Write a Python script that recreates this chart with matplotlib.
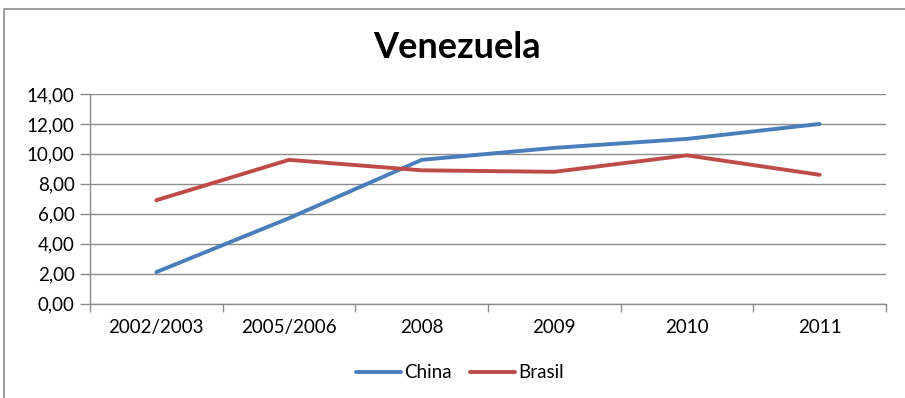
import matplotlib
matplotlib.use("Agg")
import matplotlib.pyplot as plt
from matplotlib.patches import Rectangle
from matplotlib.ticker import FixedLocator, FuncFormatter

categories = ["2002/2003", "2005/2006", "2008", "2009", "2010", "2011"]
china = [2.1, 5.7, 9.6, 10.4, 11.0, 12.0]
brasil = [6.9, 9.6, 8.9, 8.8, 9.9, 8.6]
y_ticks = [0, 2, 4, 6, 8, 10, 12, 14]

W, H = 905, 398
fig = plt.figure(figsize=(W / 100, H / 100), dpi=100)
plt.rcParams["font.family"] = ["Lato", "DejaVu Sans"]

# outer chart frame (only left and top edges fall inside the canvas)
fig.patches.append(Rectangle((4 / W, -0.1), 2, 1.1 - 8.5 / H, transform=fig.transFigure,
                             fill=False, edgecolor="#8c8c8c", linewidth=1.2))

left, right, top, bottom = 90, 886, 94, 303.5
ax = fig.add_axes([left / W, 1 - bottom / H, (right - left) / W, (bottom - top) / H])

x = list(range(len(categories)))
ax.plot(x, china, color="#4a7ebb", linewidth=2.8, label="China", solid_capstyle="round")
ax.plot(x, brasil, color="#be4b48", linewidth=2.8, label="Brasil", solid_capstyle="round")

ax.set_xlim(-0.5, len(categories) - 0.5)
ax.set_ylim(0, 14)
ax.set_yticks(y_ticks)
ax.yaxis.set_major_formatter(FuncFormatter(lambda v, p: f"{v:.2f}".replace(".", ",")))
ax.grid(axis="y", color="#8c8c8c", linewidth=1.0)
ax.set_axisbelow(True)

ax.xaxis.set_major_locator(FixedLocator([i - 0.5 for i in range(len(categories) + 1)]))
ax.xaxis.set_major_formatter(FuncFormatter(lambda v, p: ""))
ax.set_xticks(x, minor=True)
ax.set_xticklabels(categories, minor=True)
ax.tick_params(axis="x", which="major", length=6, color="#8c8c8c", width=1.0, direction="out")
ax.tick_params(axis="x", which="minor", length=0, pad=11, labelsize=13.5)
ax.tick_params(axis="y", length=7, color="#8c8c8c", width=1.0, pad=4, labelsize=13.5)

for s in ["top", "right"]:
    ax.spines[s].set_visible(False)
for s in ["left", "bottom"]:
    ax.spines[s].set_color("#8c8c8c")
    ax.spines[s].set_linewidth(1.0)

fig.text(457 / W, 1 - 48 / H, "Venezuela", ha="center", va="center",
         fontsize=26, fontweight="bold")

fig.legend(loc="center", bbox_to_anchor=(460 / W, 1 - 373 / H), ncol=2, frameon=False,
           fontsize=13.5, handlelength=2.4, handletextpad=0.15, columnspacing=1.0,
           borderaxespad=0)

fig.savefig("out.png", dpi=100)
